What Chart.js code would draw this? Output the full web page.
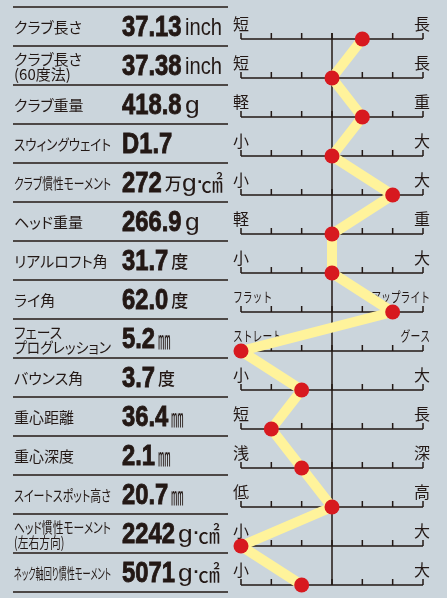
<!DOCTYPE html>
<html lang="ja">
<head>
<meta charset="utf-8">
<script src="https://cdn.jsdelivr.net/npm/chart.js@4"></script>
<style>
  html, body { margin: 0; padding: 0; background: #cbd5dc; }
  #wrap { position: relative; width: 447px; height: 598px; overflow: hidden; }
  #chart { position: absolute; left: 0; top: 0; }
  .row { position: absolute; left: 0; width: 230px; height: 39px; }
  .name { position: absolute; left: 14px; top: 0; height: 39px; display: flex; align-items: center;
          font-family: "Noto Sans CJK JP"; font-size: 15px; line-height: 15px; color: #231815;
          font-feature-settings: "palt"; white-space: pre; transform-origin: left center; }
  .val { position: absolute; left: 122px; top: 0; height: 39px; display: flex; align-items: center;
         white-space: nowrap; color: #231815; }
  .val span { line-height: 29px; }
  [data-k] { display: inline-block; overflow: visible; }
  [data-k] i { display: inline-block; font-style: normal; transform-origin: left center; }
  .num { font-family: "Liberation Sans"; font-weight: bold; font-size: 29px; margin-right: 3px;
         -webkit-text-stroke: 0.9px #231815; }
  .cjk { font-family: "Noto Sans CJK JP"; font-size: 17px; font-weight: 500; }
  .lat { font-family: "Liberation Sans"; font-size: 24px; }
  .dot { font-family: "Liberation Sans"; font-size: 18px; margin: 0 -1px 0 1px; font-weight: bold; }
  .sq { font-family: "Noto Sans CJK JP"; font-size: 23px; margin-left: -1px; }
  .mm { font-family: "Noto Sans CJK JP"; font-size: 25px; }
</style>
</head>
<body>
<div id="wrap">
  <canvas id="chart" width="447" height="598"></canvas>
</div>
<script>
// 項目名
const nombres = [
  'クラブ長さ',
  'クラブ長さ\n(60度法)',
  'クラブ重量',
  'スウィングウェイト',
  'クラブ慣性モーメント',
  'ヘッド重量',
  'リアルロフト角',
  'ライ角',
  'フェース\nプログレッション',
  'バウンス角',
  '重心距離',
  '重心深度',
  'スイートスポット高さ',
  'ヘッド慣性モーメント\n(左右方向)',
  'ネック軸回り慣性モーメント'
];
// 数値と単位
const valores = ['37.13', '37.38', '418.8', 'D1.7', '272', '266.9', '31.7', '62.0', '5.2', '3.7', '36.4', '2.1', '20.7', '2242', '5071'];
const unidades = ['inch', 'inch', 'g', '', '万g·㎠', 'g', '度', '度', '㎜', '度', '㎜', '㎜', '㎜', 'g·㎠', 'g·㎠'];
// 7段階スケール (-3 .. 3)
const escala = [1, 0, 1, 0, 2, 0, 0, 2, -3, -1, -2, -1, 0, -3, -1];
const etiquetasIzq = ['短', '短', '軽', '小', '小', '軽', '小', 'フラット', 'ストレート', '小', '短', '浅', '低', '小', '小'];
const etiquetasDer = ['長', '長', '重', '大', '大', '重', '大', 'アップライト', 'グース', '大', '長', '深', '高', '大', '大'];
const marcas = [-3, -2, -1, 0, 1, 2, 3];

const tinta = '#231815';

const lineasEscala = {
  id: 'lineasEscala',
  beforeDatasetsDraw(chart) {
    const { ctx, scales: { x, y } } = chart;
    ctx.save();
    ctx.strokeStyle = tinta;
    ctx.lineWidth = 1.5;

    // separadores de la tabla
    for (let i = 0; i <= nombres.length; i++) {
      const py = y.getPixelForValue(i) - 32;
      ctx.beginPath();
      ctx.moveTo(13, py);
      ctx.lineTo(228, py);
      ctx.stroke();
    }

    // eje central
    const cx = x.getPixelForValue(0);
    ctx.beginPath();
    ctx.moveTo(cx, y.getPixelForValue(0) - 6);
    ctx.lineTo(cx, y.getPixelForValue(nombres.length - 1));
    ctx.stroke();

    ctx.fillStyle = tinta;
    for (let i = 0; i < nombres.length; i++) {
      const py = y.getPixelForValue(i);
      const x0 = x.getPixelForValue(marcas[0]);
      const x1 = x.getPixelForValue(marcas[marcas.length - 1]);
      ctx.beginPath();
      ctx.moveTo(x0, py);
      ctx.lineTo(x1, py);
      marcas.forEach(m => {
        const mx = x.getPixelForValue(m);
        ctx.moveTo(mx, py);
        ctx.lineTo(mx, py - 6);
      });
      ctx.stroke();

      // etiquetas de los extremos
      ctx.textBaseline = 'middle';
      const izq = etiquetasIzq[i];
      const der = etiquetasDer[i];
      ctx.font = (izq.length > 1 ? '14px' : '16px') + ' "Noto Sans CJK JP"';
      ctx.textAlign = 'left';
      ctx.fillText(izq, x0 - 8, py - 15, izq.length > 1 ? izq.length * 9.8 : undefined);
      ctx.font = (der.length > 1 ? '14px' : '16px') + ' "Noto Sans CJK JP"';
      ctx.textAlign = 'right';
      ctx.fillText(der, x1 + 7, py - 15, der.length > 1 ? der.length * 9.8 : undefined);
    }
    ctx.restore();
  }
};

const puntos = escala.map((v, i) => ({ x: v, y: i }));

new Chart(document.getElementById('chart'), {
  type: 'scatter',
  data: {
    datasets: [{
      data: puntos,
      showLine: true,
      borderColor: '#fff39b',
      borderWidth: 10,
      borderJoinStyle: 'round',
      pointRadius: 7.5,
      pointHoverRadius: 7.5,
      pointBackgroundColor: '#d7191f',
      pointBorderWidth: 0,
      clip: false
    }]
  },
  options: {
    responsive: false,
    animation: false,
    events: [],
    layout: { padding: { left: 241, right: 24, top: 39, bottom: 13 } },
    scales: {
      x: { type: 'linear', min: -3, max: 3, display: false },
      y: { type: 'linear', min: 0, max: nombres.length - 1, reverse: true, display: false }
    },
    plugins: {
      legend: { display: false },
      tooltip: { enabled: false }
    }
  },
  plugins: [lineasEscala]
});

// tabla de la izquierda
function piezasUnidad(u) {
  const partes = u.match(/万|度|㎜|㎠|·|[a-z]+/g) || [];
  return partes.map(p => {
    if (p === '万' || p === '度') return `<span class="cjk">${p}</span>`;
    if (p === '㎜') return `<span class="mm" data-k="0.5"><i>${p}</i></span>`;
    if (p === '㎠') return `<span class="sq" data-k="0.95"><i>${p}</i></span>`;
    if (p === '·') return `<span class="dot">·</span>`;
    if (p === 'g') return `<span class="lat" data-k="1.1"><i>g</i></span>`;
    return `<span class="lat" data-k="0.84"><i>${p}</i></span>`;
  }).join('');
}

const wrap = document.getElementById('wrap');
nombres.forEach((n, i) => {
  const fila = document.createElement('div');
  fila.className = 'row';
  fila.style.top = (7 + 39 * i) + 'px';
  const nom = document.createElement('div');
  nom.className = 'name';
  nom.textContent = n;
  const val = document.createElement('div');
  val.className = 'val';
  val.innerHTML = `<span class="num" data-k="0.82"><i>${valores[i]}</i></span>` + piezasUnidad(unidades[i]);
  fila.appendChild(nom);
  fila.appendChild(val);
  wrap.appendChild(fila);
  const ancho = nom.getBoundingClientRect().width;
  if (ancho > 97) nom.style.transform = `scaleX(${97 / ancho})`;
  val.querySelectorAll('[data-k]').forEach(el => {
    const k = parseFloat(el.dataset.k);
    const inner = el.querySelector('i');
    const w = inner.getBoundingClientRect().width;
    el.style.width = (w * k) + 'px';
    inner.style.transform = `scaleX(${k})`;
  });
});
</script>
</body>
</html>
